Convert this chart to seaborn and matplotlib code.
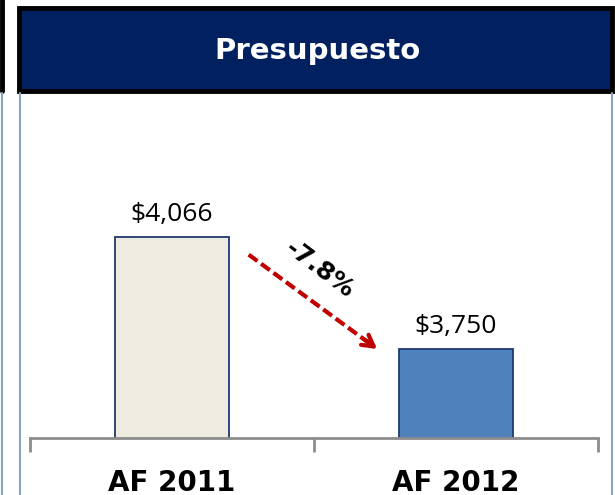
import matplotlib
matplotlib.use("Agg")
import matplotlib.pyplot as plt
import seaborn as sns
from matplotlib.patches import Rectangle
from matplotlib.lines import Line2D

# Data
categories = ["AF 2011", "AF 2012"]
values = [4066, 3750]
value_labels = ["$4,066", "$3,750"]
bar_colors = ["#EEEBE0", "#4F81BD"]
title = "Presupuesto"

sns.set_style("white")
plt.rcParams['font.family'] = ['DejaVu Sans']

fig = plt.figure(figsize=(6.15, 4.95), dpi=100)
W, H = 615, 495

# header box and panel frame lines (figure pixels)
def fx(px):
    return px / W

def fy(py):
    return 1 - py / H

fig.patches.append(Rectangle((fx(19), fy(91)), fx(593), 83 / H, transform=fig.transFigure,
                             facecolor="#002060", edgecolor="black", lw=3.5, zorder=1))
fig.text(fx(317), fy(51), title, color="white", fontsize=21, fontweight="bold",
         ha="center", va="center")
fig.lines.append(Line2D([fx(1.5), fx(1.5)], [fy(0), fy(91)], color="black", lw=3.5,
                        transform=fig.transFigure))
for xp in (1.5, 20, 612):
    fig.lines.append(Line2D([fx(xp), fx(xp)], [fy(93), fy(495)], color="#8DA3C4", lw=1.5,
                            transform=fig.transFigure))

# axes: x from 30 to 598 px, baseline at 437 px
ymin, ymax = 3500, 4300
base = 437.5
scale = 0.3544  # px per unit
top = base - scale * (ymax - ymin)
ax = fig.add_axes([fx(30), fy(base), fx(568), (base - top) / H])
ax.patch.set_alpha(0)

sns.barplot(x=categories, y=values, hue=categories, palette=bar_colors, legend=False,
            saturation=1, width=0.4, edgecolor="#1F3A70", linewidth=1.3, ax=ax, zorder=3)
ax.set_ylim(ymin, ymax)
ax.set_xlim(-0.5, 1.5)
ax.set_yticks([])
for s in ["top", "right", "left"]:
    ax.spines[s].set_visible(False)
ax.spines["bottom"].set_color("#8C8C8C")
ax.spines["bottom"].set_linewidth(2)
ax.spines["bottom"].set_zorder(4)

ax.set_xticks([-0.5, 0.5, 1.5])
ax.set_xticklabels([])
ax.tick_params(axis="x", bottom=True, length=10, width=2, color="#8C8C8C", direction="out")
for i, c in enumerate(categories):
    ax.text(i, -0.187, c, transform=ax.get_xaxis_transform(), ha="center", va="baseline",
            fontsize=20, fontweight="bold", color="black", clip_on=False)

# value labels
for i, (v, lab) in enumerate(zip(values, value_labels)):
    ax.text(i, v + 28, lab, ha="center", va="bottom", fontsize=19, color="black",
            family="Open Sans")

# change arrow
start = (0.27, values[0] - 50)
end = (0.73, values[1] - 5)
ax.plot([start[0], end[0] - 0.03], [start[1], end[1] + 18], color="#C00000", lw=3,
        linestyle=(0, (2.6, 1.1)), zorder=5)
ax.annotate("", xy=end, xytext=(end[0] - 0.06, end[1] + 36),
            arrowprops=dict(arrowstyle="->,head_length=0.8,head_width=0.45",
                            color="#C00000", lw=3), zorder=5)
pct = (values[1] / values[0] - 1) * 100
ax.text(0.52, 3975, f"{pct:.1f}%", rotation=-37, ha="center", va="center",
        fontsize=18, fontweight="bold", color="black", rotation_mode="anchor")

fig.savefig("out.png", dpi=100, facecolor="white")
